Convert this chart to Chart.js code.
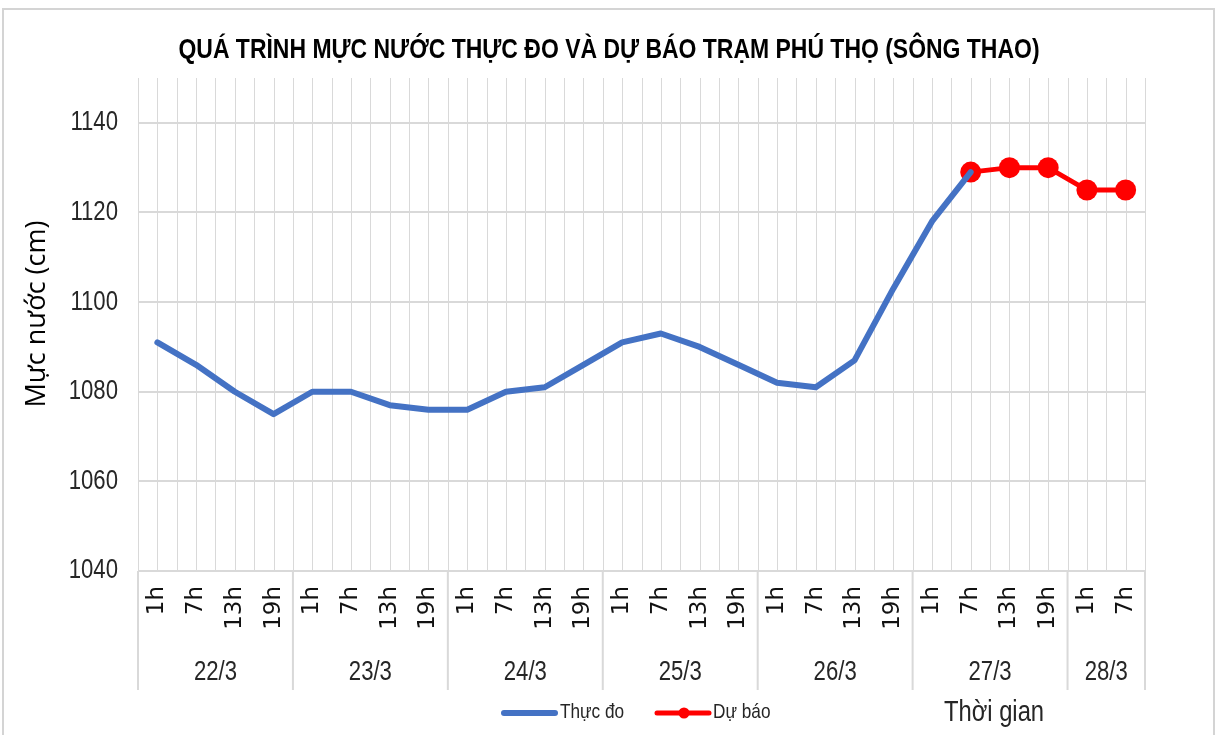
<!DOCTYPE html>
<html>
<head>
<meta charset="utf-8">
<script src="https://cdn.jsdelivr.net/npm/chart.js@4"></script>
<style>
  html, body { margin: 0; padding: 0; background: #fff; }
  #wrap { width: 1217px; height: 735px; }
</style>
</head>
<body>
<div id="wrap"><canvas id="chart" width="1217" height="735"></canvas></div>
<script>
const hours = ["1h","7h","13h","19h","1h","7h","13h","19h","1h","7h","13h","19h","1h","7h","13h","19h","1h","7h","13h","19h","1h","7h","13h","19h","1h","7h"];
const days = ["22/3","23/3","24/3","25/3","26/3","27/3","28/3"];
const daySpans = [4,4,4,4,4,4,2];
const thucDo = [1091,1086,1080,1075, 1080,1080,1077,1076, 1076,1080,1081,1086, 1091,1093,1090,1086, 1082,1081,1087,1103, 1118,1129,null,null, null,null];
const duBao = [null,null,null,null, null,null,null,null, null,null,null,null, null,null,null,null, null,null,null,null, null,1129,1130,1130, 1125,1125];
const yTicks = [1040,1060,1080,1100,1120,1140];

const TITLE = "QUÁ TRÌNH MỰC NƯỚC THỰC ĐO VÀ DỰ BÁO TRẠM PHÚ THỌ (SÔNG THAO)";
const SANS = '"Liberation Sans", sans-serif';
const GRID = "#d9d9d9";

// text squeezed sideways, close to the narrow font of the original
function narrowText(ctx, text, x, y, align, sx) {
  ctx.save();
  ctx.translate(x, y);
  ctx.scale(sx, 1);
  ctx.textAlign = align;
  ctx.fillText(text, 0, 0);
  ctx.restore();
}

const decor = {
  id: "decor",
  beforeDraw(chart) {
    const ctx = chart.ctx;
    ctx.save();
    ctx.fillStyle = "#fff";
    ctx.fillRect(0, 0, chart.width, chart.height);
    ctx.strokeStyle = "#d4d4d4";
    ctx.lineWidth = 2;
    ctx.strokeRect(3, 9, 1211, 730);
    ctx.restore();
  },
  beforeDatasetsDraw(chart) {
    const ctx = chart.ctx;
    const xs = chart.scales.x;
    const area = chart.chartArea;
    const n = hours.length;
    const band = (xs.right - xs.left) / n;
    ctx.save();
    ctx.strokeStyle = GRID;
    ctx.lineWidth = 1;
    ctx.beginPath();
    for (let k = 0; k <= 2 * n; k++) {
      const x = Math.round(xs.left + k * band / 2) + 0.5;
      ctx.moveTo(x, area.top);
      ctx.lineTo(x, area.bottom);
    }
    ctx.stroke();
    ctx.restore();
  },
  afterDraw(chart) {
    const ctx = chart.ctx;
    const xs = chart.scales.x;
    const ys = chart.scales.y;
    const area = chart.chartArea;
    const n = hours.length;
    const band = (xs.right - xs.left) / n;
    ctx.save();
    ctx.textBaseline = "middle";

    // title
    ctx.fillStyle = "#000";
    ctx.font = "bold 28px " + SANS;
    narrowText(ctx, TITLE, 609, 50, "center", 0.82);

    // y tick labels
    ctx.fillStyle = "#262626";
    ctx.font = "27px " + SANS;
    yTicks.forEach(v => narrowText(ctx, String(v), 118, ys.getPixelForValue(v), "right", 0.82));

    // y axis title
    ctx.save();
    ctx.translate(37, 314);
    ctx.rotate(-Math.PI / 2);
    ctx.fillStyle = "#000";
    ctx.font = '27px "Open Sans", sans-serif';
    ctx.textAlign = "center";
    ctx.fillText("Mực nước (cm)", 0, 0);
    ctx.restore();

    // day group separators and labels
    ctx.strokeStyle = GRID;
    ctx.lineWidth = 2;
    let start = 0;
    ctx.beginPath();
    ctx.moveTo(xs.left, area.bottom);
    ctx.lineTo(xs.left, area.bottom + 119);
    for (let d = 0; d < days.length; d++) {
      const end = start + daySpans[d];
      const x = xs.left + end * band;
      ctx.moveTo(x, area.bottom);
      ctx.lineTo(x, area.bottom + 119);
      start = end;
    }
    ctx.stroke();
    ctx.fillStyle = "#262626";
    ctx.font = "27px " + SANS;
    start = 0;
    for (let d = 0; d < days.length; d++) {
      const cx = xs.left + (start + daySpans[d] / 2) * band;
      narrowText(ctx, days[d], cx, 673, "center", 0.82);
      start += daySpans[d];
    }

    // legend
    ctx.lineCap = "round";
    ctx.strokeStyle = "#4472c4";
    ctx.lineWidth = 6;
    ctx.beginPath();
    ctx.moveTo(504, 713);
    ctx.lineTo(555, 713);
    ctx.stroke();
    ctx.strokeStyle = "#ff0000";
    ctx.lineWidth = 5;
    ctx.beginPath();
    ctx.moveTo(657, 713);
    ctx.lineTo(709, 713);
    ctx.stroke();
    ctx.fillStyle = "#ff0000";
    ctx.beginPath();
    ctx.arc(684, 713, 5.5, 0, Math.PI * 2);
    ctx.fill();
    ctx.fillStyle = "#262626";
    ctx.font = "21px " + SANS;
    narrowText(ctx, "Thực đo", 560, 712, "left", 0.82);
    narrowText(ctx, "Dự báo", 713, 712, "left", 0.82);
    ctx.font = "29px " + SANS;
    narrowText(ctx, "Thời gian", 994, 713, "center", 0.82);
    ctx.restore();
  }
};

new Chart(document.getElementById("chart"), {
  type: "line",
  data: {
    labels: hours,
    datasets: [
      {
        label: "Thực đo",
        data: thucDo,
        borderColor: "#4472c4",
        borderWidth: 6,
        pointRadius: 0,
        tension: 0,
        spanGaps: false,
        borderJoinStyle: "round",
        borderCapStyle: "round"
      },
      {
        label: "Dự báo",
        data: duBao,
        borderColor: "#ff0000",
        backgroundColor: "#ff0000",
        borderWidth: 5,
        pointRadius: 10.5,
        pointBorderWidth: 0,
        pointBackgroundColor: "#ff0000",
        tension: 0
      }
    ]
  },
  options: {
    responsive: false,
    animation: false,
    layout: { padding: { top: 78, right: 72, bottom: 45, left: 0 } },
    plugins: {
      legend: { display: false },
      title: { display: false },
      tooltip: { enabled: false }
    },
    scales: {
      x: {
        type: "category",
        offset: true,
        grid: { display: false, drawTicks: false },
        border: { display: false },
        ticks: {
          autoSkip: false,
          minRotation: 90,
          maxRotation: 90,
          padding: 15,
          color: "#111",
          font: { family: '"DejaVu Sans", sans-serif', size: 23 }
        },
        afterFit(s) { s.height = 119; }
      },
      y: {
        min: 1040,
        max: 1150,
        afterBuildTicks(s) { s.ticks = yTicks.map(v => ({ value: v })); },
        grid: { color: GRID, lineWidth: 2, drawTicks: false },
        border: { display: false },
        ticks: { display: false },
        afterFit(s) { s.width = 138; }
      }
    }
  },
  plugins: [decor]
});
</script>
</body>
</html>
